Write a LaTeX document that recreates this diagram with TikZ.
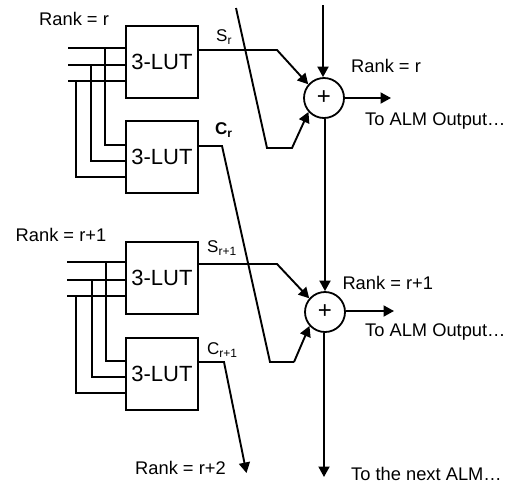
\documentclass[tikz,border=0pt]{standalone}
\usepackage{fontspec}
\setmainfont{Liberation Sans}
\usetikzlibrary{arrows.meta}
\tikzset{
  x=1pt,y=-1pt,
  wire/.style={line width=1.9pt,line join=miter},
  arrowwire/.style={wire,-{Triangle[length=10.5pt,width=11pt]}},
  lutbox/.style={draw,line width=1.7pt,minimum width=72pt,minimum height=72pt,inner sep=0pt,font=\fontsize{22}{24}\selectfont},
  adder/.style={draw,circle,line width=1.8pt,minimum size=40pt,inner sep=0pt,font=\fontsize{24}{26}\selectfont},
  lbl/.style={anchor=base west,inner sep=0pt,font=\fontsize{18.3}{20}\selectfont},
  sublbl/.style={anchor=base west,inner sep=0pt,font=\fontsize{17}{18}\selectfont}
}
\newcommand{\smallsub}[1]{\raisebox{-3pt}{\fontsize{12}{12}\selectfont #1}}
\begin{document}
\begin{tikzpicture}
\useasboundingbox (0,0) rectangle (511,483);
% boxes
\node[lutbox] (b1) at (162,62) {3-LUT};
\node[lutbox] (b2) at (162,157) {3-LUT};
\node[lutbox] (b3) at (162,278) {3-LUT};
\node[lutbox] (b4) at (162,374) {3-LUT};
\node[adder] (a1) at (324,98) {+};
\node[adder] (a2) at (325,312) {+};
% free ends and bends
\coordinate (i1) at (68,48);
\coordinate (i2) at (68,65);
\coordinate (i3) at (68,81);
\coordinate (t1) at (105,48);
\coordinate (t2) at (91,65);
\coordinate (t3) at (76,81);
\coordinate (j1) at (105,145);
\coordinate (j2) at (91,161);
\coordinate (j3) at (76,177);
\coordinate (k1) at (67,262);
\coordinate (k2) at (67,280);
\coordinate (k3) at (67,296);
\coordinate (u1) at (106,262);
\coordinate (u2) at (92,280);
\coordinate (u3) at (76,296);
\coordinate (m1) at (106,361);
\coordinate (m2) at (92,377);
\coordinate (m3) at (76,393);
\coordinate (top) at (323,5);
\coordinate (crosstop) at (236,8);
\coordinate (s1a) at (277,50);
\coordinate (c0a) at (267,148);
\coordinate (c0b) at (292,148);
\coordinate (c1o) at (222,146);
\coordinate (c1a) at (270,362);
\coordinate (c1b) at (294,362);
\coordinate (s2a) at (277,264);
\coordinate (c2o) at (224,362);
\coordinate (c2e) at (246.5,473);
\coordinate (o1) at (391,98);
\coordinate (o2) at (394,311);
\coordinate (next) at (324,477);
% inputs of the upper pair
\draw[wire] (i1) -- (i1 -| b1.west);
\draw[wire] (i2) -- (i2 -| b1.west);
\draw[wire] (i3) -- (i3 -| b1.west);
\draw[wire] (t1) -- (j1) -- (j1 -| b2.west);
\draw[wire] (t2) -- (j2) -- (j2 -| b2.west);
\draw[wire] (t3) -- (j3) -- (j3 -| b2.west);
% inputs of the lower pair
\draw[wire] (k1) -- (k1 -| b3.west);
\draw[wire] (k2) -- (k2 -| b3.west);
\draw[wire] (k3) -- (k3 -| b3.west);
\draw[wire] (u1) -- (m1) -- (m1 -| b4.west);
\draw[wire] (u2) -- (m2) -- (m2 -| b4.west);
\draw[wire] (u3) -- (m3) -- (m3 -| b4.west);
% outputs
\draw[arrowwire] (b1.east |- s1a) -- (s1a) -- (a1.139);
\draw[arrowwire] (crosstop) -- (c0a) -- (c0b) -- (a1.222);
\draw[arrowwire] (top) -- (a1.north -| top);
\draw[arrowwire] (a1.east |- o1) -- (o1);
\draw[arrowwire] (a1.south -| a2.north) -- (a2.north);
\draw[wire] (b2.east |- c1o) -- (c1o) -- (c1a) -- (c1b);
\draw[arrowwire] (c1b) -- (a2.222);
\draw[arrowwire] (b3.east |- s2a) -- (s2a) -- (a2.139);
\draw[arrowwire] (a2.east |- o2) -- (o2);
\draw[arrowwire] (b4.east |- c2o) -- (c2o) -- (c2e);
\draw[arrowwire] (a2.south -| next) -- (next);
% labels
\node[lbl] (r1) at (39,25) {Rank = r};
\node[lbl] (r2) at (15.5,241) {Rank = r+1};
\node[lbl] (r3) at (135,474) {Rank = r+2};
\node[lbl] (r4) at (351,72.7) {Rank = r};
\node[lbl] (r5) at (342.3,289) {Rank = r+1};
\node[lbl] (o1t) at (365,125) {To ALM Output…};
\node[lbl] (o2t) at (365,336.7) {To ALM Output…};
\node[lbl] (nt) at (351,480.7) {To the next ALM…};
\node[sublbl] (ls1) at (216,41.7) {S\smallsub{r}};
\node[sublbl,font=\fontsize{17}{18}\selectfont\bfseries] (lc1) at (215,134) {C\smallsub{r}};
\node[sublbl] (ls2) at (207,252) {S\smallsub{r+1}};
\node[sublbl] (lc2) at (207,354) {C\smallsub{r+1}};
\end{tikzpicture}
\end{document}
